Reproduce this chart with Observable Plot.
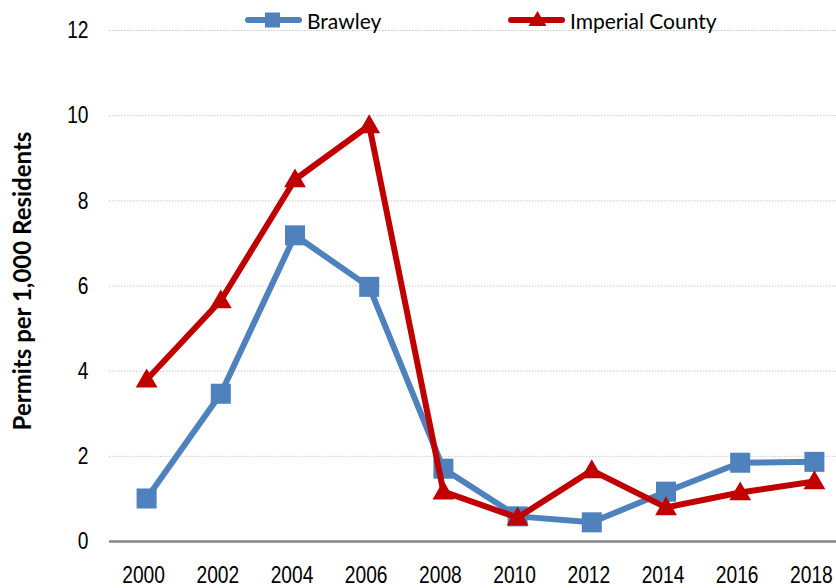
<!DOCTYPE html>
<html>
<head>
<meta charset="utf-8">
<script src="https://cdn.jsdelivr.net/npm/d3@7"></script>
<script src="https://cdn.jsdelivr.net/npm/@observablehq/plot@0.6"></script>
<style>
  html, body { margin: 0; padding: 0; background: #fff; }
  #wrap { position: relative; width: 836px; height: 588px; overflow: hidden; }
  #legend { position: absolute; left: 0; top: 0; width: 836px; height: 40px; font-family: Lato, "Open Sans", sans-serif; font-size: 21px; color: #000; }
  .item { position: absolute; top: 5px; display: flex; align-items: center; height: 30px; }
  .item svg { display: block; margin-right: 5px; }
</style>
</head>
<body>
<div id="wrap">
  <div id="chart"></div>
  <div id="legend"></div>
</div>
<script>
const years = [2000, 2002, 2004, 2006, 2008, 2010, 2012, 2014, 2016, 2018];
const brawley = [1.01, 3.47, 7.19, 5.98, 1.71, 0.59, 0.45, 1.17, 1.85, 1.87];
const imperial = [3.8, 5.66, 8.5, 9.77, 1.17, 0.56, 1.67, 0.8, 1.15, 1.41];
const yTicks = [0, 2, 4, 6, 8, 10, 12];
const seriesNames = ["Brawley", "Imperial County"];
const yTitle = "Permits per 1,000 Residents";

const blue = "#4f81bd";
const red = "#c00000";

const bData = years.map((y, i) => ({year: y, value: brawley[i]}));
const iData = years.map((y, i) => ({year: y, value: imperial[i]}));
const grid = yTicks.filter(t => t > 0);

const numFont = '"Liberation Sans", Arial, sans-serif';

const chart = Plot.plot({
  width: 836,
  height: 588,
  marginTop: 30,
  marginBottom: 47,
  marginLeft: 109,
  marginRight: 0,
  style: {fontFamily: numFont, fontSize: "24px", color: "#000", background: "#fff"},
  x: {domain: [1999, 2019], range: [109, 851]},
  y: {domain: [0, 12], range: [541, 30]},
  marks: [
    Plot.ruleY(grid, {y: d => d, x1: 1999, x2: 2019, stroke: "#c9c9c9", strokeWidth: 1, strokeDasharray: "1.5,1.5"}),
    Plot.ruleY([0], {x1: 1999, x2: 2019, stroke: "#868686", strokeWidth: 2.5}),
    Plot.axisY({ticks: yTicks, tickSize: 0, tickPadding: 21, label: null, tickFormat: d => String(d)}),
    Plot.axisX({ticks: years, tickSize: 0, tickPadding: 24, label: null, tickFormat: d => String(d), dx: -3}),
    Plot.line(bData, {x: "year", y: "value", stroke: blue, strokeWidth: 6, strokeLinejoin: "round"}),
    Plot.dot(bData, {x: "year", y: "value", symbol: "square", r: 11.3, fill: blue, stroke: "none"}),
    Plot.line(iData, {x: "year", y: "value", stroke: red, strokeWidth: 6, strokeLinejoin: "round"}),
    Plot.dot(iData, {x: "year", y: "value", symbol: "triangle", r: 8.1, fill: red, stroke: "none", dy: 1.5})
  ]
});
document.getElementById("chart").appendChild(chart);

// condense tick labels horizontally (narrow numeric font look)
d3.select(chart).selectAll('g[aria-label$="tick label"] text').each(function() {
  const t = this.getAttribute("transform") || "";
  this.setAttribute("transform", t + " scale(0.8,1)");
});

// y-axis title
d3.select(chart).append("text")
  .attr("transform", "translate(21,281) rotate(-90)")
  .attr("text-anchor", "middle")
  .attr("dominant-baseline", "central")
  .style("font-family", 'Lato, "Open Sans", sans-serif')
  .style("font-weight", "bold")
  .style("font-size", "24px")
  .attr("fill", "#000")
  .text(yTitle);

// legend
const legend = document.getElementById("legend");
const items = [
  {name: seriesNames[0], color: blue, sym: "square", left: 245},
  {name: seriesNames[1], color: red, sym: "triangle", left: 508}
];
items.forEach(it => {
  const div = document.createElement("div");
  div.className = "item";
  div.style.left = it.left + "px";
  const svg = d3.create("svg").attr("width", 57).attr("height", 30);
  svg.append("line").attr("x1", 3).attr("x2", 54).attr("y1", 15).attr("y2", 15)
    .attr("stroke", it.color).attr("stroke-width", 6).attr("stroke-linecap", "round");
  if (it.sym === "square") {
    svg.append("rect").attr("x", 20).attr("y", 7.5).attr("width", 15).attr("height", 15).attr("fill", it.color);
  } else {
    svg.append("path").attr("d", "M29.5,6 L38.5,21 L20.5,21 Z").attr("fill", it.color);
  }
  div.appendChild(svg.node());
  const span = document.createElement("span");
  span.textContent = it.name;
  div.appendChild(span);
  legend.appendChild(div);
});
</script>
</body>
</html>
